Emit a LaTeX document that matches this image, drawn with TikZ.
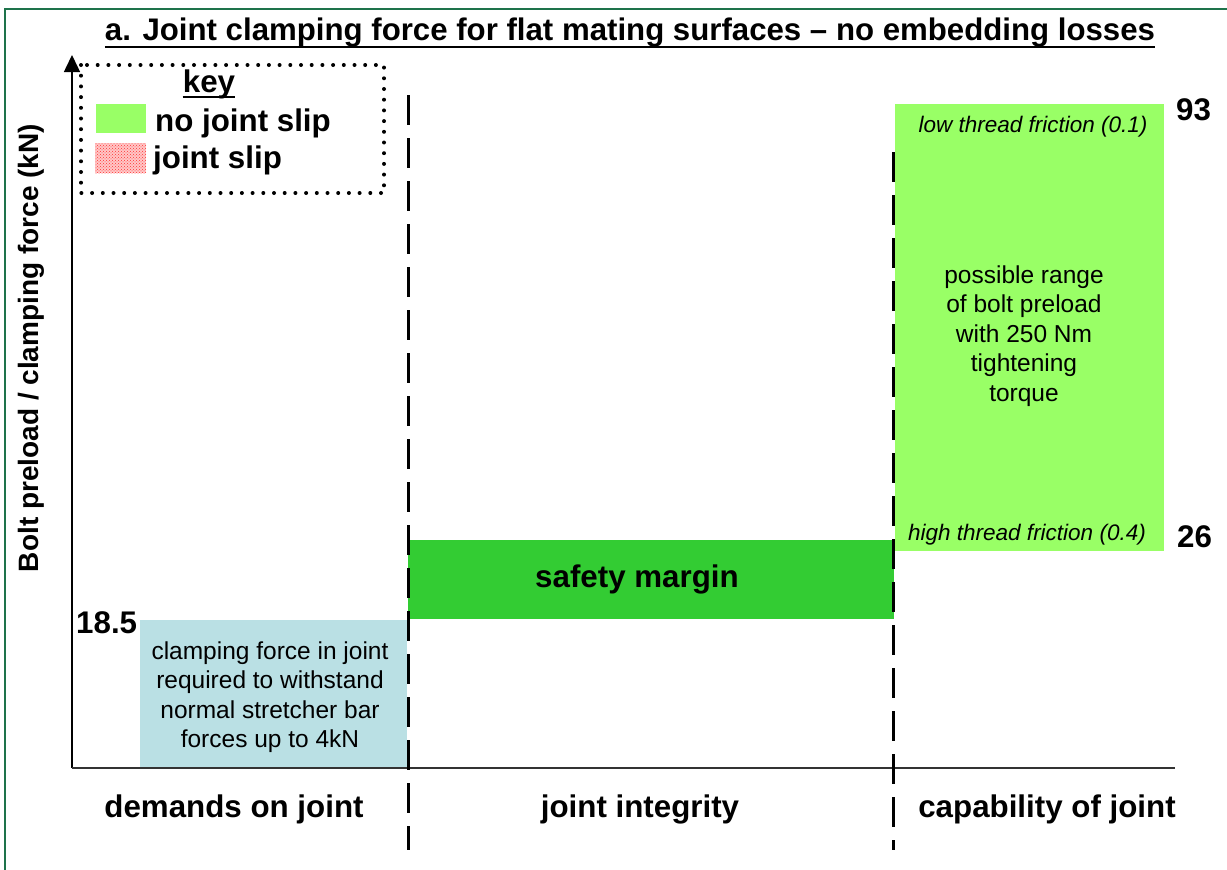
\documentclass[tikz,border=0pt]{standalone}
\usepackage{fontspec}
\setmainfont{Liberation Sans}
\usetikzlibrary{arrows.meta,patterns}
\definecolor{framegreen}{RGB}{30,115,75}
\definecolor{lightgreen}{RGB}{153,255,102}
\definecolor{midgreen}{RGB}{51,204,51}
\definecolor{paleblue}{RGB}{186,224,228}
\begin{document}
\begin{tikzpicture}[x=1pt,y=-1pt,
  boldtxt/.style={font=\bfseries\fontsize{31.3}{37}\selectfont, inner sep=0pt},
  titletxt/.style={font=\bfseries\fontsize{31.2}{37}\selectfont, inner sep=0pt},
  axislabel/.style={font=\bfseries\fontsize{28}{34}\selectfont, inner sep=0pt},
  bodytxt/.style={font=\fontsize{24.5}{29.5}\selectfont, align=center, inner sep=0pt},
  ittxt/.style={font=\itshape\fontsize{22.5}{27}\selectfont, inner sep=0pt},
  divider/.style={line width=3pt, dash pattern=on 30pt off 13pt},
  keyframe/.style={line width=4pt, line cap=round, dash pattern=on 0pt off 10.7pt},
  axisline/.style={line width=1.5pt}]
\useasboundingbox (0,0) rectangle (1227,870);
% frame
\draw[framegreen, line width=2.5pt] (5,9) rectangle (1240,890);
% title
\node[titletxt, anchor=base] (title) at (630,40) {a. Joint clamping force for flat mating surfaces – no embedding losses};
\draw[line width=2.8pt] ([yshift=-7pt]title.base west) -- ([yshift=-7pt]title.base east);
% boxes
\fill[paleblue] (140,620) rectangle (407,768);
\fill[midgreen] (408,540) rectangle (894,619);
\fill[lightgreen] (895,104) rectangle (1164,551);
% axes
\coordinate (origin) at (72,768);
\coordinate (ytop) at (72,55);
\coordinate (xend) at (1175,768);
\draw[axisline, -{Triangle[width=16pt,length=17pt]}] (origin) -- (ytop);
\draw[line width=2pt, black!80] (origin) -- (xend);
% dividers
\coordinate (d1top) at (408,95);
\coordinate (d1bot) at (408,850);
\coordinate (d2top) at (893,152);
\coordinate (d2bot) at (893,850);
\draw[divider] (d1top) -- (d1bot);
\draw[divider] (d2top) -- (d2bot);
% key
\draw[keyframe] (81,65) rectangle (384,193);
\node[boldtxt, anchor=base] (keyt) at (209,92) {key};
\draw[line width=2pt] ([yshift=-5pt]keyt.base west) -- ([yshift=-5pt]keyt.base east);
\fill[lightgreen] (96,104) rectangle (146,133);
\fill[red!22] (95,143) rectangle (146,173);
\fill[pattern=crosshatch dots, pattern color=red!80] (95,143) rectangle (146,173);
\node[boldtxt, anchor=base west] (k1) at (155,131) {no joint slip};
\node[boldtxt, anchor=base west] (k2) at (153,168) {joint slip};
% y label
\node[axislabel, rotate=90] (ylab) at (31,348) {Bolt preload / clamping force (kN)};
% values
\node[boldtxt, anchor=base west] (v185) at (76,633) {18.5};
\node[boldtxt, anchor=base west] (v93) at (1176,120) {93};
\node[boldtxt, anchor=base west] (v26) at (1177,547) {26};
% box texts
\node[bodytxt] (demandtxt) at (270,697) {clamping force in joint\\required to withstand\\normal stretcher bar\\forces up to 4kN};
\node[boldtxt, anchor=base] (safety) at (637,587) {safety margin};
\node[ittxt, anchor=base] (lowf) at (1033,132) {low thread friction (0.1)};
\node[ittxt, anchor=base] (highf) at (1027,540) {high thread friction (0.4)};
\node[bodytxt] (rangetxt) at (1024,336) {possible range\\of bolt preload\\with 250 Nm\\tightening\\torque};
% bottom labels
\node[boldtxt, anchor=base] (lab1) at (234,817) {demands on joint};
\node[boldtxt, anchor=base] (lab2) at (640,817) {joint integrity};
\node[boldtxt, anchor=base] (lab3) at (1047,817) {capability of joint};
\end{tikzpicture}
\end{document}
